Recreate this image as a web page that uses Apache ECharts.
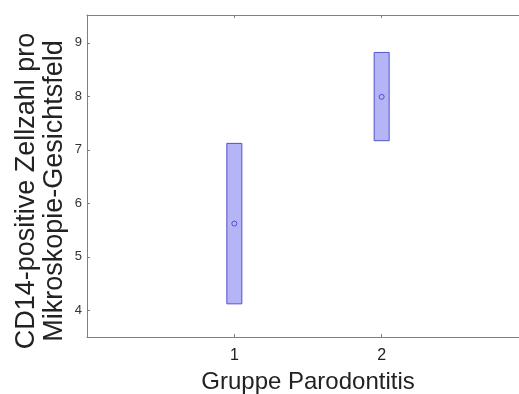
<!DOCTYPE html>
<html>
<head>
<meta charset="utf-8">
<script src="https://cdn.jsdelivr.net/npm/echarts@6/dist/echarts.min.js"></script>
<style>
  html, body { margin: 0; padding: 0; background: #fff; }
  #chart { width: 519px; height: 394px; }
</style>
</head>
<body>
<div id="chart"></div>
<script>
// Gruppen und Werte
var groups = [1, 2];
var lowerVals = [4.12, 7.17];
var upperVals = [7.12, 8.82];
var meanVals = [5.62, 7.99];
var yTicks = [4, 5, 6, 7, 8, 9];

var chart = echarts.init(document.getElementById('chart'));

var boxData = groups.map(function (g, i) {
    return [g, lowerVals[i], upperVals[i]];
});
var meanData = groups.map(function (g, i) {
    return [g, meanVals[i]];
});

var axisGray = '#808080';
var fontFam = 'Liberation Sans, Arial, sans-serif';

option = {
    backgroundColor: '#fff',
    animation: false,
    grid: { left: 87, right: -10, top: 15, bottom: 57, outerBoundsMode: 'none', containLabel: false },
    xAxis: [{
        type: 'value',
        min: 0, max: 3, interval: 1,
        name: 'Gruppe Parodontitis',
        nameLocation: 'middle',
        nameGap: 33,
        nameTextStyle: { fontSize: 24, color: '#222', fontFamily: fontFam },
        axisLine: { lineStyle: { color: axisGray } },
        axisTick: { inside: true, length: 3, lineStyle: { color: axisGray }, customValues: groups },
        axisLabel: {
            fontSize: 16, color: '#222', fontFamily: fontFam, margin: 11,
            customValues: groups
        },
        splitLine: { show: false }
    }, {
        type: 'value', position: 'top',
        min: 0, max: 3, interval: 1,
        axisLine: { show: true, lineStyle: { color: axisGray } },
        axisTick: { inside: true, length: 3, lineStyle: { color: axisGray }, customValues: groups },
        axisLabel: { show: false },
        splitLine: { show: false }
    }],
    yAxis: {
        type: 'value',
        min: 3.5, max: 9.52,
        axisLine: { show: true, lineStyle: { color: axisGray } },
        axisTick: { inside: true, length: 3, lineStyle: { color: axisGray }, customValues: yTicks },
        axisLabel: {
            fontSize: 13, color: '#333', fontFamily: fontFam, margin: 5,
            customValues: yTicks
        },
        splitLine: { show: false }
    },
    graphic: [{
        type: 'text',
        x: 41, y: 191,
        rotation: Math.PI / 2,
        style: {
            text: 'CD14-positive Zellzahl pro\nMikroskopie-Gesichtsfeld',
            font: '27px ' + fontFam,
            fill: '#222',
            align: 'center',
            verticalAlign: 'middle',
            lineHeight: 28
        }
    }],
    series: [{
        type: 'custom',
        data: boxData,
        renderItem: function (params, api) {
            var top = api.coord([api.value(0), api.value(2)]);
            var bot = api.coord([api.value(0), api.value(1)]);
            var w = 15;
            return {
                type: 'rect',
                shape: { x: top[0] - w / 2, y: top[1], width: w, height: bot[1] - top[1] },
                style: { fill: '#b4b4f6', stroke: '#5353c6', lineWidth: 1 }
            };
        },
        z: 2
    }, {
        type: 'scatter',
        data: meanData,
        symbol: 'circle',
        symbolSize: 5,
        itemStyle: { color: 'rgba(0,0,0,0)', borderColor: '#3a3ac0', borderWidth: 1 },
        z: 3
    }]
};

chart.setOption(option);
</script>
</body>
</html>
